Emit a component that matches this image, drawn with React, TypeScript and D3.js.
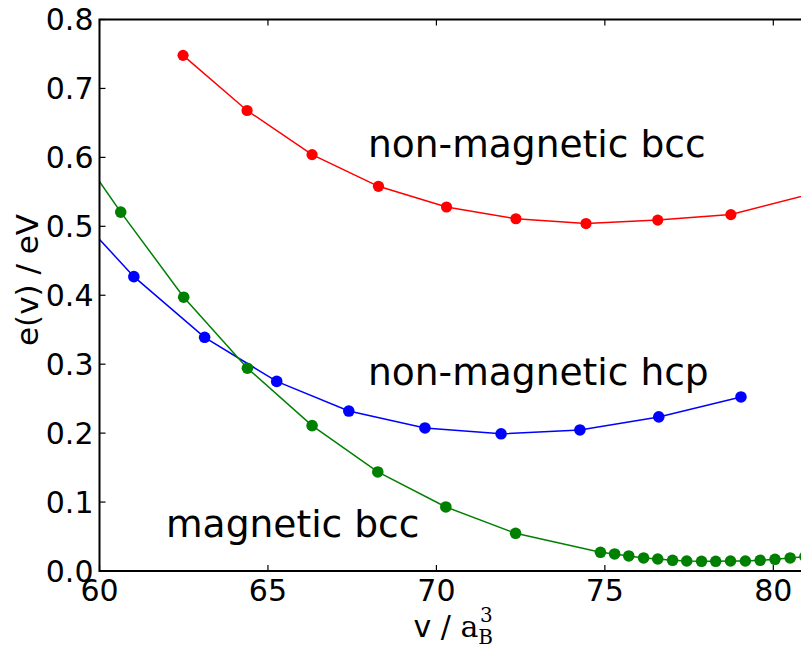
import React from "react";
import * as d3 from "d3";

const bccNonMagV = [62.48, 64.38, 66.31, 68.28, 70.30, 72.36, 74.44, 76.57, 78.74, 81.2];
const bccNonMagE = [0.748, 0.668, 0.604, 0.558, 0.528, 0.511, 0.504, 0.509, 0.517, 0.548];

const hcpV = [59.0, 61.02, 63.12, 65.26, 67.40, 69.66, 71.92, 74.26, 76.60, 79.04];
const hcpE = [0.534, 0.427, 0.339, 0.275, 0.232, 0.2075, 0.199, 0.2046, 0.2235, 0.2525];

const bccMagV = [58.6, 60.63, 62.50, 64.39, 66.31, 68.26, 70.28, 72.35, 74.87, 75.29, 75.71, 76.15, 76.57, 77.01, 77.43, 77.87, 78.29, 78.73, 79.17, 79.61, 80.05, 80.50, 80.94];
const bccMagE = [0.663, 0.5206, 0.3972, 0.2942, 0.2109, 0.1437, 0.0929, 0.0547, 0.0271, 0.0247, 0.0218, 0.0189, 0.0174, 0.0155, 0.0145, 0.0141, 0.0141, 0.0145, 0.0145, 0.0155, 0.0170, 0.0189, 0.021];

const xTicks = [60, 65, 70, 75, 80];
const yTicks = [0.0, 0.1, 0.2, 0.3, 0.4, 0.5, 0.6, 0.7, 0.8];

const left = 99.5, right = 807, top = 19.5, bottom = 571;
const x = d3.scaleLinear().domain([60, 81]).range([left, right]);
const y = d3.scaleLinear().domain([0, 0.8]).range([bottom, top]);

const series = [
  { v: bccNonMagV, e: bccNonMagE, color: "#ff0000", r: 5.6 },
  { v: hcpV, e: hcpE, color: "#0000ff", r: 5.8 },
  { v: bccMagV, e: bccMagE, color: "#008000", r: 5.8 },
];

const font = "'DejaVu Sans', sans-serif";

export default function App() {
  const line = d3.line<[number, number]>().x(d => x(d[0])).y(d => y(d[1]));
  const tickLen = 6;
  return (
    <svg width={801} height={648} style={{ position: "absolute", left: 0, top: 0, background: "#fff" }}>
      <defs>
        <clipPath id="plot">
          <rect x={left} y={top} width={right - left} height={bottom - top} />
        </clipPath>
      </defs>
      <rect x={0} y={0} width={801} height={648} fill="#fff" />
      <g clipPath="url(#plot)">
        {series.map((s, i) => {
          const pts = s.v.map((v, j) => [v, s.e[j]] as [number, number]);
          return (
            <g key={i}>
              <path d={line(pts) || ""} fill="none" stroke={s.color} strokeWidth={1.5} />
              {pts.map((p, j) => (
                <circle key={j} cx={x(p[0])} cy={y(p[1])} r={s.r} fill={s.color} />
              ))}
            </g>
          );
        })}
      </g>
      <rect x={left} y={top} width={right - left} height={bottom - top} fill="none" stroke="#000" strokeWidth={2} />
      {xTicks.map(t => (
        <g key={t}>
          <line x1={x(t)} x2={x(t)} y1={bottom} y2={bottom - tickLen} stroke="#000" strokeWidth={1.2} />
          <line x1={x(t)} x2={x(t)} y1={top} y2={top + tickLen} stroke="#000" strokeWidth={1.2} />
          <text x={x(t)} y={bottom + 30} textAnchor="middle" fontFamily={font} fontSize={30} fill="#000">{t}</text>
        </g>
      ))}
      {yTicks.map(t => (
        <g key={t}>
          <line x1={left} x2={left + tickLen} y1={y(t)} y2={y(t)} stroke="#000" strokeWidth={1.2} />
          <line x1={right} x2={right - tickLen} y1={y(t)} y2={y(t)} stroke="#000" strokeWidth={1.2} />
          <text x={left - 6} y={y(t)} dy="0.36em" textAnchor="end" fontFamily={font} fontSize={30} fill="#000">{t.toFixed(1)}</text>
        </g>
      ))}
      <text x={368} y={157} fontFamily={font} fontSize={37.6} fill="#000">non-magnetic bcc</text>
      <text x={368} y={385} fontFamily={font} fontSize={37.6} fill="#000">non-magnetic hcp</text>
      <text x={166} y={537} fontFamily={font} fontSize={37.6} fill="#000">magnetic bcc</text>
      <text transform={`translate(38, 280) rotate(-90)`} textAnchor="middle" fontFamily={font} fontSize={31} fill="#000">e(v) / eV</text>
      <text x={(left + right) / 2} y={637} textAnchor="middle" fontFamily={font} fontSize={30} fill="#000">
        v / <tspan fontFamily="'DejaVu Serif', serif">a</tspan>
        <tspan fontFamily="'DejaVu Serif', serif" fontSize={20} dy={7}>B</tspan>
        <tspan fontFamily="'DejaVu Serif', serif" fontSize={20} dx={-13} dy={-22}>3</tspan>
      </text>
    </svg>
  );
}
